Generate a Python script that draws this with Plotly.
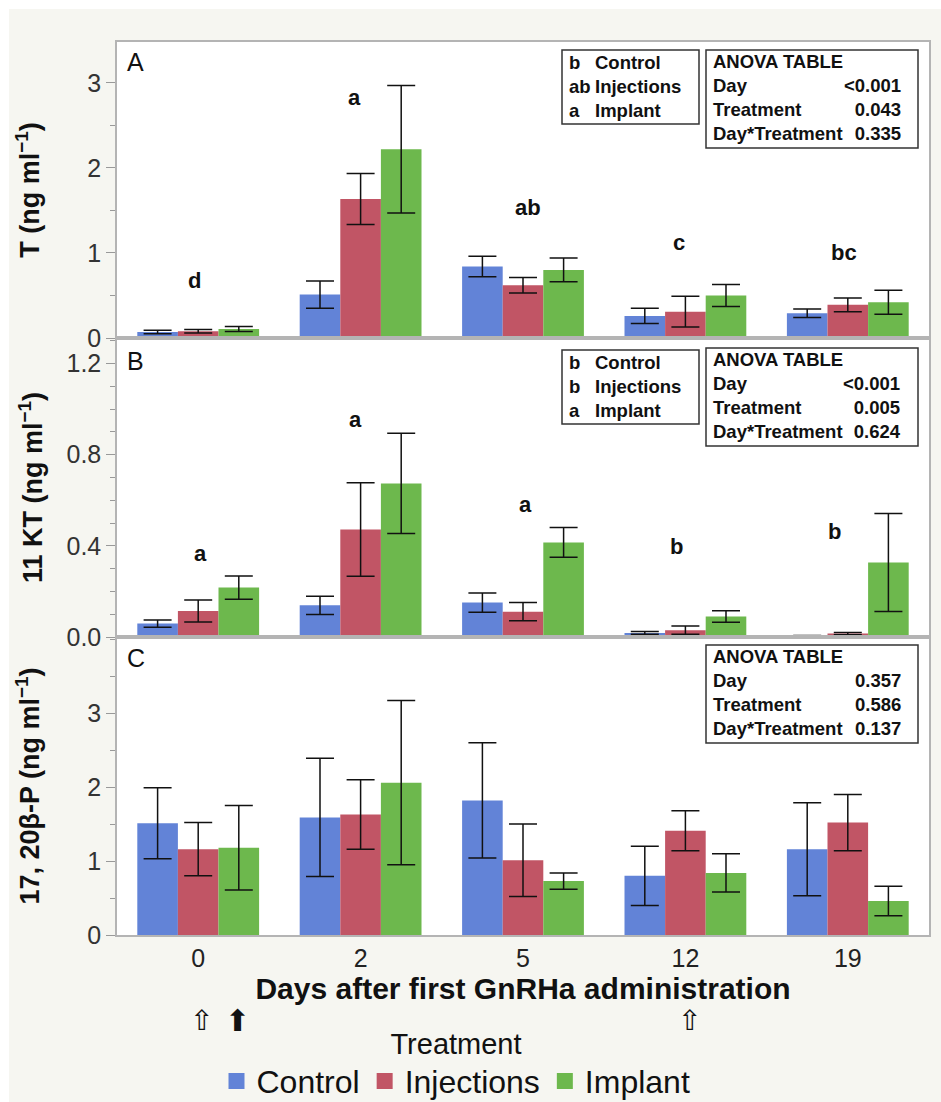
import plotly.graph_objects as go
from plotly.subplots import make_subplots

# ---------------- data ----------------
days = ["0", "2", "5", "12", "19"]
treatments = ["Control", "Injections", "Implant"]
colors = ["#6283D7", "#C15565", "#6DB84D"]

# Panel A: testosterone (ng/ml)
T_control = [0.07, 0.51, 0.84, 0.26, 0.29]
T_injections = [0.08, 1.635, 0.62, 0.31, 0.39]
T_implant = [0.105, 2.22, 0.80, 0.50, 0.42]
T_control_err = [0.02, 0.16, 0.12, 0.09, 0.05]
T_injections_err = [0.02, 0.30, 0.09, 0.18, 0.08]
T_implant_err = [0.03, 0.75, 0.14, 0.13, 0.14]

# Panel B: 11-KT (ng/ml)
KT_control = [0.059, 0.139, 0.151, 0.018, 0.005]
KT_injections = [0.114, 0.472, 0.111, 0.030, 0.015]
KT_implant = [0.217, 0.674, 0.415, 0.090, 0.327]
KT_control_err = [0.016, 0.040, 0.042, 0.006, 0.002]
KT_injections_err = [0.048, 0.205, 0.040, 0.018, 0.005]
KT_implant_err = [0.051, 0.220, 0.065, 0.025, 0.215]

# Panel C: 17,20b-P (ng/ml)
P_control = [1.51, 1.59, 1.82, 0.80, 1.16]
P_injections = [1.16, 1.63, 1.01, 1.41, 1.52]
P_implant = [1.18, 2.06, 0.73, 0.84, 0.46]
P_control_err = [0.48, 0.80, 0.78, 0.40, 0.63]
P_injections_err = [0.36, 0.47, 0.49, 0.27, 0.38]
P_implant_err = [0.57, 1.11, 0.11, 0.26, 0.20]

# significance letters per day
T_letters = ["d", "a", "ab", "c", "bc"]
T_letter_y = [0.68, 2.83, 1.53, 1.12, 1.01]
KT_letters = ["a", "a", "a", "b", "b"]
KT_letter_y = [0.367, 0.956, 0.58, 0.398, 0.464]

# treatment-letter boxes
T_treat_letters = ["b", "ab", "a"]
KT_treat_letters = ["b", "b", "a"]

# ANOVA tables
anova_labels = ["Day", "Treatment", "Day*Treatment"]
T_anova = ["<0.001", "0.043", "0.335"]
KT_anova = ["<0.001", "0.005", "0.624"]
P_anova = ["0.357", "0.586", "0.137"]

# y tick labels
T_ticks = [0, 1, 2, 3]
KT_ticks = [0.0, 0.4, 0.8, 1.2]
P_ticks = [0, 1, 2, 3]

panels = [
    ([T_control, T_injections, T_implant], [T_control_err, T_injections_err, T_implant_err]),
    ([KT_control, KT_injections, KT_implant], [KT_control_err, KT_injections_err, KT_implant_err]),
    ([P_control, P_injections, P_implant], [P_control_err, P_injections_err, P_implant_err]),
]

# ---------------- layout helpers (pixel -> paper) ----------------
W, H = 941, 1102
L, R, T, B = 117, 929, 42, 935


def px(xp):
    return (xp - L) / (R - L)


def py(yp):
    return (B - yp) / (B - T)


FONT = "Arial, Liberation Sans, Helvetica, sans-serif"

fig = make_subplots(rows=3, cols=1, shared_xaxes=True, vertical_spacing=0)

for r, (means, errs) in enumerate(panels, start=1):
    for name, m, e, c in zip(treatments, means, errs, colors):
        fig.add_trace(
            go.Bar(
                x=days, y=m, name=name, marker=dict(color=c, line=dict(width=0)),
                error_y=dict(type="data", array=e, visible=True, color="#111111",
                             thickness=1.5, width=14),
                showlegend=False,
            ),
            row=r, col=1,
        )

# legend entries (larger square swatches)
for name, c in zip(treatments, colors):
    fig.add_trace(
        go.Scatter(x=[None], y=[None], mode="markers", name=name,
                   marker=dict(symbol="square", size=22, color=c), showlegend=True),
        row=3, col=1,
    )

annotations = []

# significance letters (x given as category index)
for i, (lt, yv, xs) in enumerate(zip(T_letters, T_letter_y, [-4, -6, 5, -6, -4])):
    annotations.append(dict(x=i, y=yv, xref="x", yref="y", text=lt, showarrow=False, xshift=xs,
                            font=dict(size=22, family=FONT, color="#111", weight="bold")))
for i, (lt, yv, xs) in enumerate(zip(KT_letters, KT_letter_y, [2, -5, 2, -9, -13])):
    annotations.append(dict(x=i, y=yv, xref="x2", yref="y2", text=lt, showarrow=False, xshift=xs,
                            font=dict(size=22, family=FONT, color="#111", weight="bold")))

# panel labels
for lab, yc in zip(["A", "B", "C"], [62, 361, 658]):
    annotations.append(dict(x=px(125), y=py(yc), xref="paper", yref="paper", text=lab,
                            xanchor="left", yanchor="middle", showarrow=False,
                            font=dict(size=25, family=FONT, color="#111")))

box_font = dict(size=18.5, family=FONT, color="#111", weight="bold")
shapes = []


def add_box(x0, y0, x1, y1):
    shapes.append(dict(type="rect", xref="paper", yref="paper", x0=px(x0), x1=px(x1),
                       y0=py(y1), y1=py(y0), line=dict(color="#333", width=1.5),
                       fillcolor="white", layer="above"))


def add_anova(values, top):
    add_box(706, top, 918, top + 98)
    annotations.append(dict(x=px(711), y=py(top - 1), xref="paper", yref="paper",
                            text="<br>".join(["ANOVA TABLE"] + anova_labels),
                            xanchor="left", yanchor="top", align="left", showarrow=False,
                            font=box_font))
    annotations.append(dict(x=px(903), y=py(top - 1), xref="paper", yref="paper",
                            text="<br>".join(["&nbsp;"] + values),
                            xanchor="right", yanchor="top", align="right", showarrow=False,
                            font=box_font))


def add_letters_box(letters, top):
    add_box(562, top, 699, top + 74)
    annotations.append(dict(x=px(567), y=py(top), xref="paper", yref="paper",
                            text="<br>".join(letters), xanchor="left", yanchor="top",
                            align="left", showarrow=False, font=box_font))
    annotations.append(dict(x=px(593), y=py(top), xref="paper", yref="paper",
                            text="<br>".join(treatments), xanchor="left", yanchor="top",
                            align="left", showarrow=False, font=box_font))


add_letters_box(T_treat_letters, 50)
add_anova(T_anova, 50)
add_letters_box(KT_treat_letters, 350)
add_anova(KT_anova, 348)
add_anova(P_anova, 645)

# treatment arrows under x axis
for xc, sym, sz in [(201, "⇧", 28), (237, "⬆", 30), (689, "⇧", 28)]:
    annotations.append(dict(x=px(xc), y=py(1020), xref="paper", yref="paper", text=sym,
                            showarrow=False, xanchor="center", yanchor="middle",
                            font=dict(size=sz, family="DejaVu Sans", color="#111")))

# background: off-white with thin white strip at top/left
shapes.append(dict(type="rect", xref="paper", yref="paper", x0=px(0), x1=px(W), y0=py(9), y1=py(0),
                   fillcolor="white", line=dict(width=0), layer="below"))
shapes.append(dict(type="rect", xref="paper", yref="paper", x0=px(0), x1=px(9), y0=py(H), y1=py(0),
                   fillcolor="white", line=dict(width=0), layer="below"))

fig.update_layout(
    width=W, height=H,
    margin=dict(l=L, r=W - R, t=T, b=H - B, autoexpand=False),
    paper_bgcolor="#F6F6F1", plot_bgcolor="white",
    barmode="group", bargap=0.25, bargroupgap=0,
    font=dict(family=FONT, color="#222"),
    annotations=annotations, shapes=shapes,
    legend=dict(orientation="h", x=px(456), xanchor="center", y=py(1016), yanchor="top",
                font=dict(size=32, family=FONT, color="#111"),
                title=dict(text="Treatment", side="top center", font=dict(size=29, family=FONT, color="#111")),
                itemsizing="trace", bgcolor="rgba(0,0,0,0)", itemwidth=30),
)

axis_line = dict(showline=True, mirror=True, linecolor="#B4B4B4", linewidth=1.5,
                 showgrid=False, zeroline=False)

for i in (1, 2, 3):
    fig.update_xaxes(row=i, col=1, range=[-0.5, 4.5], ticks="", **axis_line)
fig.update_xaxes(row=3, col=1, showticklabels=True, tickfont=dict(size=25, color="#222"),
                 title=dict(text="<b>Days after first GnRHa administration</b>",
                            font=dict(size=30, color="#111"), standoff=2))

ytick = dict(ticks="outside", ticklen=9, tickcolor="#999", tickwidth=1,
             tickfont=dict(size=25, color="#333"))

fig.update_yaxes(row=1, col=1, domain=[py(338), 1.0], range=[0, 3.48],
                 tickvals=T_ticks, ticktext=[str(v) for v in T_ticks],
                 minor=dict(dtick=0.5, tick0=0, ticks="outside", ticklen=5, tickcolor="#999"),
                 title=dict(text="<b>T (ng ml<sup>−1</sup>)</b>", font=dict(size=27, color="#111"), standoff=40),
                 **axis_line, **ytick)
fig.update_yaxes(row=2, col=1, domain=[py(637), py(338)], range=[0, 1.312],
                 tickvals=KT_ticks, ticktext=[f"{v:.1f}" for v in KT_ticks],
                 minor=dict(dtick=0.1, tick0=0, ticks="outside", ticklen=5, tickcolor="#999"),
                 title=dict(text="<b>11 KT (ng ml<sup>−1</sup>)</b>", font=dict(size=27, color="#111"), standoff=16),
                 **axis_line, **ytick)
fig.update_yaxes(row=3, col=1, domain=[0, py(637)], range=[0, 4.03],
                 tickvals=P_ticks, ticktext=[str(v) for v in P_ticks],
                 minor=dict(dtick=0.5, tick0=0, ticks="outside", ticklen=5, tickcolor="#999"),
                 title=dict(text="<b>17, 20β-P (ng ml<sup>−1</sup>)</b>", font=dict(size=27, color="#111"), standoff=40),
                 **axis_line, **ytick)

fig.write_html("out.html")
